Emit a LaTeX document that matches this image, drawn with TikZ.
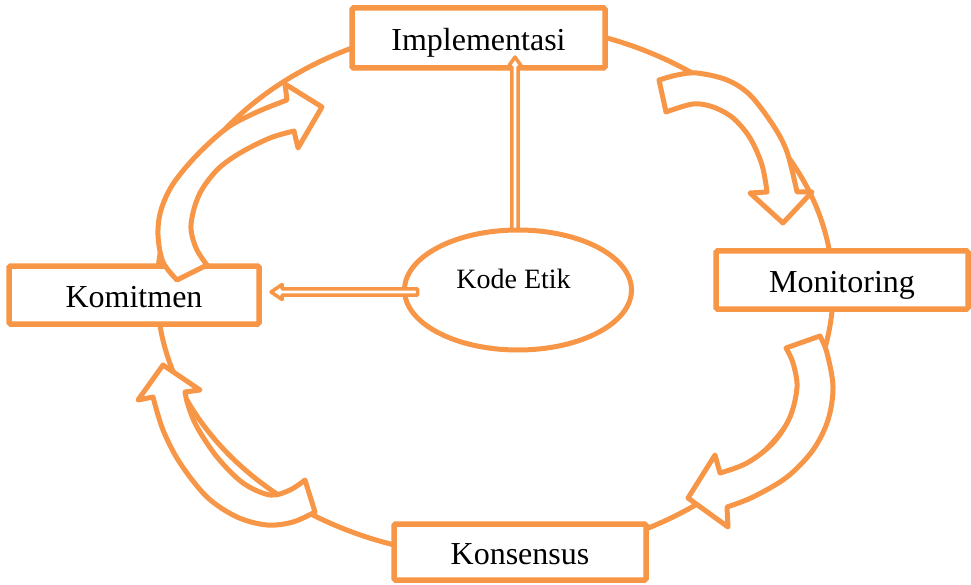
\documentclass[tikz,border=0pt]{standalone}
\usepackage{fontspec}
\setmainfont{Liberation Serif}
\usetikzlibrary{calc,shapes.geometric}
\definecolor{orangeC}{RGB}{247,150,70}
\tikzset{
  org/.style={draw=orangeC, line width=5pt},
  box/.style={draw=orangeC, line width=5.5pt, fill=white, rectangle, rounded corners=1.5pt,
    inner sep=0pt, outer sep=0pt, text height=25pt, text depth=0pt,
    font=\fontsize{32}{38}\selectfont},
  kodeshape/.style={org, fill=white, ellipse, minimum width=227pt, minimum height=120pt,
    inner sep=0pt, outer sep=0pt, text height=20pt, text depth=24pt,
    font=\fontsize{28}{34}\selectfont},
  dblarrow/.style={draw=orangeC, line width=3.5pt, fill=white, line join=round},
  carrow/.style={draw=orangeC, fill=white, line width=5pt, line join=round},
}
\begin{document}
\begin{tikzpicture}[x=1pt,y=-1pt]
\useasboundingbox (0,0) rectangle (971,585);
% big cycle
\draw[org] (495,290) ellipse [x radius=338pt, y radius=267pt];
% boxes
\node[box, minimum width=253pt, minimum height=60pt] (impl) at (478.5,38) {Implementasi};
\node[box, minimum width=250pt, minimum height=58pt] (komit) at (134,295) {Komitmen};
\node[box, minimum width=252pt, minimum height=58pt] (monit) at (842,280) {Monitoring};
\node[box, minimum width=252pt, minimum height=56pt] (konsen) at (520,552) {Konsensus};
% vertical double arrow (Kode Etik -> Implementasi), drawn before the ellipse covers its foot
\coordinate (vb) at (515,236);
\coordinate (vt) at ($(impl.south -| vb)+(0,-11)$);
\draw[dblarrow] ($(vb)+(-3.2,0)$) -- ($(vt)+(-3.2,10)$) -- ($(vt)+(-7,10)$) -- (vt)
  -- ($(vt)+(7,10)$) -- ($(vt)+(3.2,10)$) -- ($(vb)+(3.2,0)$) -- cycle;
% Kode Etik
\node[kodeshape] (kode) at (518,290) {Kode Etik\kern9pt};
% horizontal double arrow (Kode Etik -> Komitmen)
\coordinate (hs) at ($(kode.west)+(13,2)$);
\coordinate (ht) at ($(komit.east |- hs)+(12,0)$);
\draw[dblarrow] ($(hs)+(0,-3.2)$) -- ($(ht)+(11,-3.2)$) -- ($(ht)+(11,-7.5)$) -- (ht)
  -- ($(ht)+(11,7.5)$) -- ($(ht)+(11,3.2)$) -- ($(hs)+(0,3.2)$) -- cycle;
% curved arrow: Komitmen -> Implementasi
\draw[carrow] plot[smooth, tension=0.55] coordinates {(177,280) (163,262) (158,235) (161,210) (173,184) (197,155) (227,128) (257,112) (287,100)}
  -- (285,84) -- (322,107) -- (298,148) -- (294,131)
  -- plot[smooth, tension=0.55] coordinates {(294,131) (270,138) (240,153) (217,170) (199,195) (191,225) (196,248) (207,265)} -- cycle;
% curved arrow: Implementasi -> Monitoring
\draw[carrow] plot[smooth, tension=0.55] coordinates {(659,80) (677,75) (697,73) (727,80) (750,95) (773,125) (787,152) (797,192)}
  -- (812,192) -- (783,223) -- (750,193) -- (767,192)
  -- plot[smooth, tension=0.55] coordinates {(767,192) (762,165) (750,138) (733,118) (713,107) (693,104) (666,112)} -- cycle;
% curved arrow: Monitoring -> Konsensus
\draw[carrow] plot[smooth, tension=0.55] coordinates {(820,336) (827,353) (833,387) (828,420) (813,450) (787,477) (753,497) (727,507)}
  -- (728,527) -- (688,498) -- (715,455) -- (720,473)
  -- plot[smooth, tension=0.55] coordinates {(720,473) (747,463) (773,443) (790,417) (797,387) (793,363) (786,348)} -- cycle;
% curved arrow: Konsensus -> Komitmen
\draw[carrow] plot[smooth, tension=0.55] coordinates {(315,512) (293,522) (267,525) (237,517) (207,497) (180,463) (163,430) (153,397)}
  -- (138,400) -- (163,365) -- (200,390) -- (185,392)
  -- plot[smooth, tension=0.55] coordinates {(185,392) (188,405) (197,427) (217,457) (243,483) (270,495) (290,490) (305,480)} -- cycle;
\end{tikzpicture}
\end{document}
